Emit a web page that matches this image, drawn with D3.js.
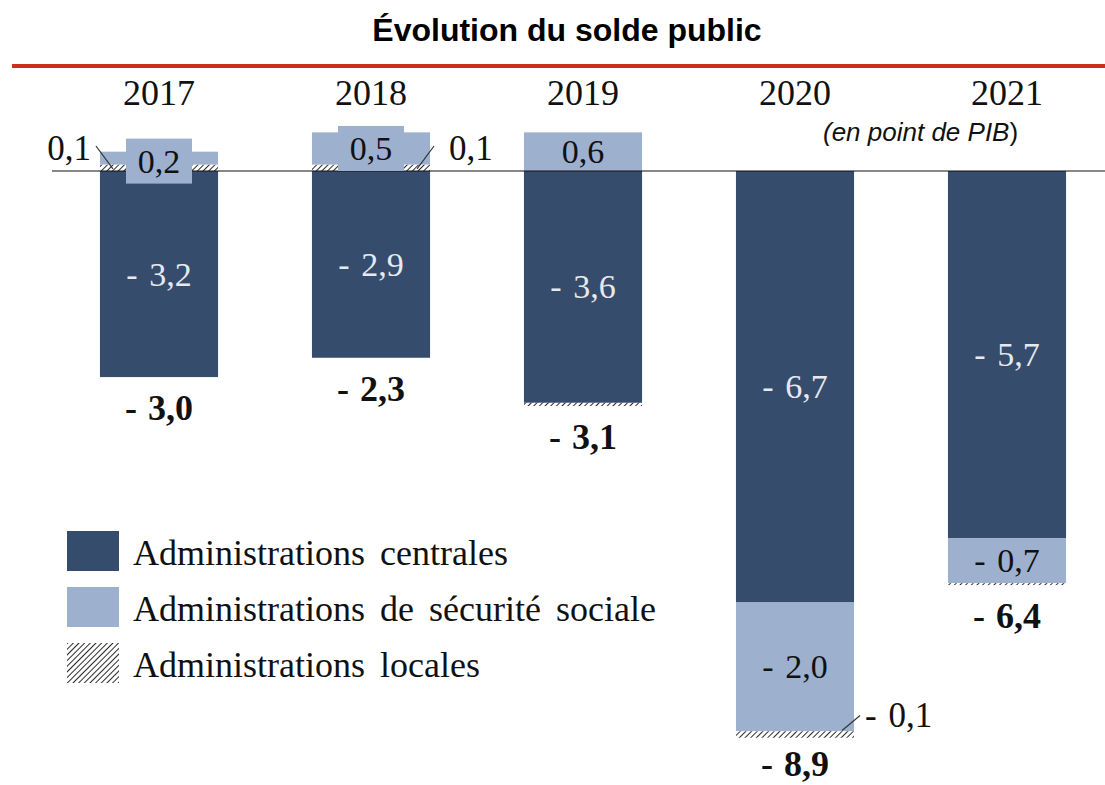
<!DOCTYPE html>
<html>
<head>
<meta charset="utf-8">
<script src="https://cdn.jsdelivr.net/npm/d3@7"></script>
<style>
  html, body { margin: 0; padding: 0; background: #fff; }
  svg { display: block; }
</style>
</head>
<body>
<div id="chart"></div>
<script>
// Évolution du solde public, en point de PIB, par sous-secteur
const years = ['2017', '2018', '2019', '2020', '2021'];
const centrales = [-3.2, -2.9, -3.6, -6.7, -5.7];
const securiteSociale = [0.2, 0.5, 0.6, -2.0, -0.7];
const locales = [0.1, 0.1, -0.05, -0.1, -0.03];
const soldeTotal = [-3.0, -2.3, -3.1, -8.9, -6.4];
const localesLabels = ['0,1', '0,1', '', '- 0,1', ''];
const localesLabelSide = ['left', 'right', null, 'right', null];
const legendLabels = ['Administrations centrales', 'Administrations de sécurité sociale', 'Administrations locales'];

(function(){
  const W = 1105, H = 785;
  const darkBlue = '#364c6c', lightBlue = '#9db0ce', red = '#c9301c';
  const serif = '"Liberation Serif", "Times New Roman", serif';
  const sans = '"Liberation Sans", Arial, sans-serif';

  // format like '- 3,2'
  function fr(v){
    const s = Math.abs(v).toFixed(1).replace('.', ',');
    return v < 0 ? '- ' + s : s;
  }

  const svg = d3.select('#chart').append('svg').attr('width', W).attr('height', H);

  const defs = svg.append('defs');
  const pat = defs.append('pattern').attr('id', 'hatch')
    .attr('patternUnits', 'userSpaceOnUse').attr('width', 4).attr('height', 4)
    .attr('patternTransform', 'rotate(45)');
  pat.append('rect').attr('width', 4).attr('height', 4).attr('fill', '#fff');
  pat.append('line').attr('x1', 0).attr('y1', 0).attr('x2', 0).attr('y2', 4)
    .attr('stroke', '#111').attr('stroke-width', 1.8);

  const x = d3.scaleBand().domain(years).range([53, 1113]).paddingInner(0.443).paddingOuter(0.2215);
  const y = d3.scaleLinear().domain([1, -9]).range([171 - 64.4, 171 + 9 * 64.4]);

  // title + red rule
  svg.append('text').attr('x', 567).attr('y', 41).attr('text-anchor', 'middle')
    .attr('font-family', sans).attr('font-weight', 700).attr('font-size', 32)
    .text('Évolution du solde public');
  svg.append('line').attr('x1', 12).attr('x2', W).attr('y1', 66).attr('y2', 66)
    .attr('stroke', red).attr('stroke-width', 4);

  // year labels
  svg.append('g').selectAll('text').data(years).join('text')
    .attr('x', d => x(d) + x.bandwidth() / 2).attr('y', 105)
    .attr('text-anchor', 'middle').attr('font-family', serif).attr('font-size', 36)
    .attr('fill', '#111').text(d => d);

  const unit = svg.append('text').attr('x', 823).attr('y', 141)
    .attr('font-family', sans).attr('font-size', 26).attr('fill', '#111');
  unit.append('tspan').attr('font-style', 'italic').text('(en point de PIB');
  unit.append('tspan').text(')');

  // build stacked segments
  const series = [
    { key: 'centrales', values: centrales, fill: darkBlue, text: '#e6e9f0' },
    { key: 'secu', values: securiteSociale, fill: lightBlue, text: '#111' },
    { key: 'locales', values: locales, fill: 'url(#hatch)', text: null }
  ];
  const segs = [];
  const bottoms = [];
  years.forEach((yr, i) => {
    let pos = 0, neg = 0;
    // positive side: locales nearest zero, then secu
    [series[2], series[1], series[0]].forEach(s => {
      const v = s.values[i];
      if (v > 0) { segs.push({ yr, i, s, v, y0: pos, y1: pos + v }); pos += v; }
    });
    // negative side: centrales first, then secu, then locales
    [series[0], series[1], series[2]].forEach(s => {
      const v = s.values[i];
      if (v < 0) { segs.push({ yr, i, s, v, y0: neg, y1: neg + v }); neg += v; }
    });
    bottoms.push(neg);
  });

  const barG = svg.append('g');
  barG.selectAll('rect').data(segs).join('rect')
    .attr('x', d => x(d.yr))
    .attr('width', x.bandwidth())
    .attr('y', d => y(Math.max(d.y0, d.y1)))
    .attr('height', d => Math.abs(y(d.y1) - y(d.y0)))
    .attr('fill', d => d.s.fill);

  // zero line
  svg.append('line').attr('x1', 52).attr('x2', W).attr('y1', y(0)).attr('y2', y(0))
    .attr('stroke', '#111').attr('stroke-width', 1.2);

  // segment labels (centrales and secu)
  const labG = svg.append('g');
  segs.filter(d => d.s.text).forEach(d => {
    const cx = x(d.yr) + x.bandwidth() / 2;
    const cy = (y(d.y0) + y(d.y1)) / 2;
    const hpx = Math.abs(y(d.y1) - y(d.y0));
    let ty = cy;
    if (hpx < 35) {
      // small positive slice: label sits on its own box, as in the source
      ty = d.i === 0 ? cy + 3 : cy;
      labG.append('rect').attr('x', cx - 33).attr('width', 66)
        .attr('y', ty - 22.5).attr('height', 45).attr('fill', d.s.fill);
    }
    labG.append('text').attr('x', cx).attr('y', ty)
      .attr('text-anchor', 'middle').attr('dominant-baseline', 'central')
      .attr('font-family', serif).attr('font-size', 34).attr('word-spacing', 3)
      .attr('fill', d.s.text).text(fr(d.v));
  });

  // locales annotations with leader lines
  years.forEach((yr, i) => {
    const side = localesLabelSide[i];
    if (!side) return;
    const v = locales[i];
    const seg = segs.find(s => s.i === i && s.s.key === 'locales');
    const hy = (y(seg.y0) + y(seg.y1)) / 2;
    const edge = side === 'left' ? x(yr) : x(yr) + x.bandwidth();
    const dir = side === 'left' ? -1 : 1;
    let lx1, ly1, lx2, ly2, tx, ty;
    if (v > 0) {
      lx1 = edge + dir * 4; ly1 = y(0) - 25;
      lx2 = edge - dir * 13; ly2 = hy + 1;
      tx = edge + dir * (side === 'left' ? 9 : 19); ty = y(0) - 23;
    } else {
      lx1 = edge + dir * 6; ly1 = hy - 19;
      lx2 = edge - dir * 12; ly2 = hy - 4;
      tx = edge + dir * 11; ty = hy - 19;
    }
    svg.append('line').attr('x1', lx1).attr('y1', ly1).attr('x2', lx2).attr('y2', ly2)
      .attr('stroke', '#333').attr('stroke-width', 1.2);
    svg.append('text').attr('x', tx).attr('y', ty)
      .attr('text-anchor', side === 'left' ? 'end' : 'start')
      .attr('dominant-baseline', 'central')
      .attr('font-family', serif).attr('font-size', 35).attr('word-spacing', 3)
      .attr('fill', '#111')
      .text(localesLabels[i]);
  });

  // totals under each bar
  svg.append('g').selectAll('text').data(years).join('text')
    .attr('x', d => x(d) + x.bandwidth() / 2)
    .attr('y', (d, i) => Math.min(y(bottoms[i]) + 31, 764))
    .attr('text-anchor', 'middle').attr('dominant-baseline', 'central')
    .attr('font-family', serif).attr('font-weight', 700).attr('font-size', 36)
    .attr('word-spacing', 2)
    .attr('fill', '#111').text((d, i) => fr(soldeTotal[i]));

  // legend
  const legFills = [darkBlue, lightBlue, 'url(#hatch)'];
  const leg = svg.append('g').attr('transform', 'translate(67,531)');
  legendLabels.forEach((lab, i) => {
    const row = leg.append('g').attr('transform', `translate(0,${i * 56})`);
    row.append('rect').attr('width', 52).attr('height', 40).attr('fill', legFills[i]);
    row.append('text').attr('x', 66).attr('y', 22).attr('dominant-baseline', 'central')
      .attr('font-family', serif).attr('font-size', 36).attr('word-spacing', 6)
      .attr('fill', '#111').text(lab);
  });
})();
</script>
</body>
</html>
